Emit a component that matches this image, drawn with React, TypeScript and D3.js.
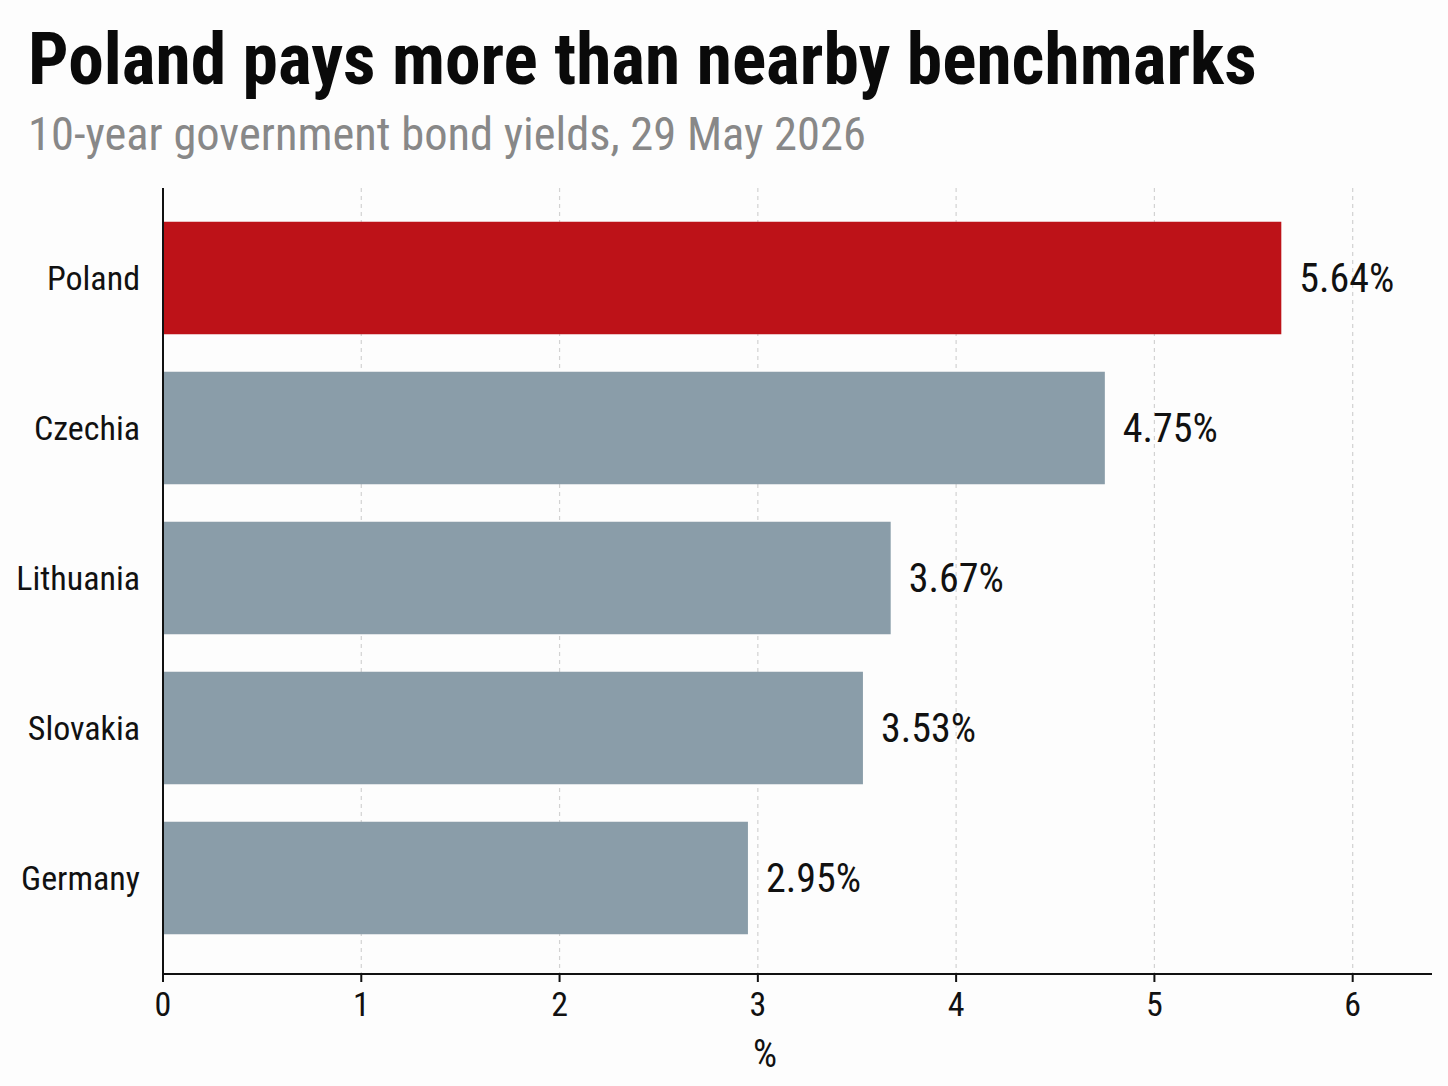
import React from "react";
import * as d3 from "d3";

const countries = ["Poland", "Czechia", "Lithuania", "Slovakia", "Germany"];
const yields = [5.64, 4.75, 3.67, 3.53, 2.95];
const highlight = ["Poland"];
const xTicks = [0, 1, 2, 3, 4, 5, 6];
const titleText = "Poland pays more than nearby benchmarks";
const subtitleText = "10-year government bond yields, 29 May 2026";
const axisLabel = "%";

const W = 1448;
const H = 1086;
const FONT = '"Liberation Sans Narrow", "Arial Narrow", "Roboto Condensed", "DejaVu Sans Condensed", sans-serif';

export default function App() {
  const plotLeft = 163;
  const plotRight = 1432;
  const plotTop = 188;
  const plotBottom = 974;

  const x = d3.scaleLinear().domain([0, 6.4]).range([plotLeft, plotRight]);
  const y = d3
    .scaleBand<string>()
    .domain(countries)
    .range([203, 953])
    .paddingInner(0.25)
    .paddingOuter(0.125);

  return (
    <svg
      width={W}
      height={H}
      viewBox={`0 0 ${W} ${H}`}
      style={{ position: "absolute", left: 0, top: 0, background: "#fdfdfd" }}
      fontFamily={FONT}
    >
      <rect x={0} y={0} width={W} height={H} fill="#fdfdfd" />
      <text x={28} y={84} fontSize={71.5} fontWeight={700} fill="#0a0a0a" style={{ fontStretch: "condensed" }}>
        {titleText}
      </text>
      <text x={28} y={150} fontSize={46.5} fill="#888888" style={{ fontStretch: "condensed" }}>
        {subtitleText}
      </text>

      {/* grid lines */}
      {xTicks
        .filter((t) => t > 0)
        .map((t) => (
          <line
            key={`g${t}`}
            x1={x(t)}
            x2={x(t)}
            y1={plotTop}
            y2={plotBottom}
            stroke="#d2d2d2"
            strokeWidth={1.2}
            strokeDasharray="4 4"
          />
        ))}

      {/* bars */}
      {countries.map((c, i) => (
        <rect
          key={c}
          x={x(0)}
          y={y(c)}
          width={x(yields[i]) - x(0)}
          height={y.bandwidth()}
          fill={highlight.includes(c) ? "#bd1218" : "#8a9da9"}
        />
      ))}

      {/* value labels */}
      {countries.map((c, i) => (
        <text
          key={`v${c}`}
          x={x(yields[i]) + 18}
          y={(y(c) as number) + y.bandwidth() / 2}
          dy="0.35em"
          fontSize={40}
          fill="#111"
        >
          {`${yields[i].toFixed(2)}%`}
        </text>
      ))}

      {/* category labels */}
      {countries.map((c) => (
        <text
          key={`c${c}`}
          x={140}
          y={(y(c) as number) + y.bandwidth() / 2}
          dy="0.35em"
          textAnchor="end"
          fontSize={34}
          fill="#111"
        >
          {c}
        </text>
      ))}

      {/* axes */}
      <line x1={plotLeft} x2={plotLeft} y1={plotTop} y2={plotBottom} stroke="#111" strokeWidth={2} />
      <line x1={plotLeft} x2={plotRight} y1={plotBottom} y2={plotBottom} stroke="#111" strokeWidth={2} />
      {xTicks.map((t) => (
        <g key={`t${t}`}>
          <line x1={x(t)} x2={x(t)} y1={plotBottom} y2={plotBottom + 8} stroke="#111" strokeWidth={2} />
          <text x={x(t)} y={1016} textAnchor="middle" fontSize={34} fill="#111">
            {t}
          </text>
        </g>
      ))}
      <text x={765} y={1067} textAnchor="middle" fontSize={38} fill="#111">
        {axisLabel}
      </text>
    </svg>
  );
}
